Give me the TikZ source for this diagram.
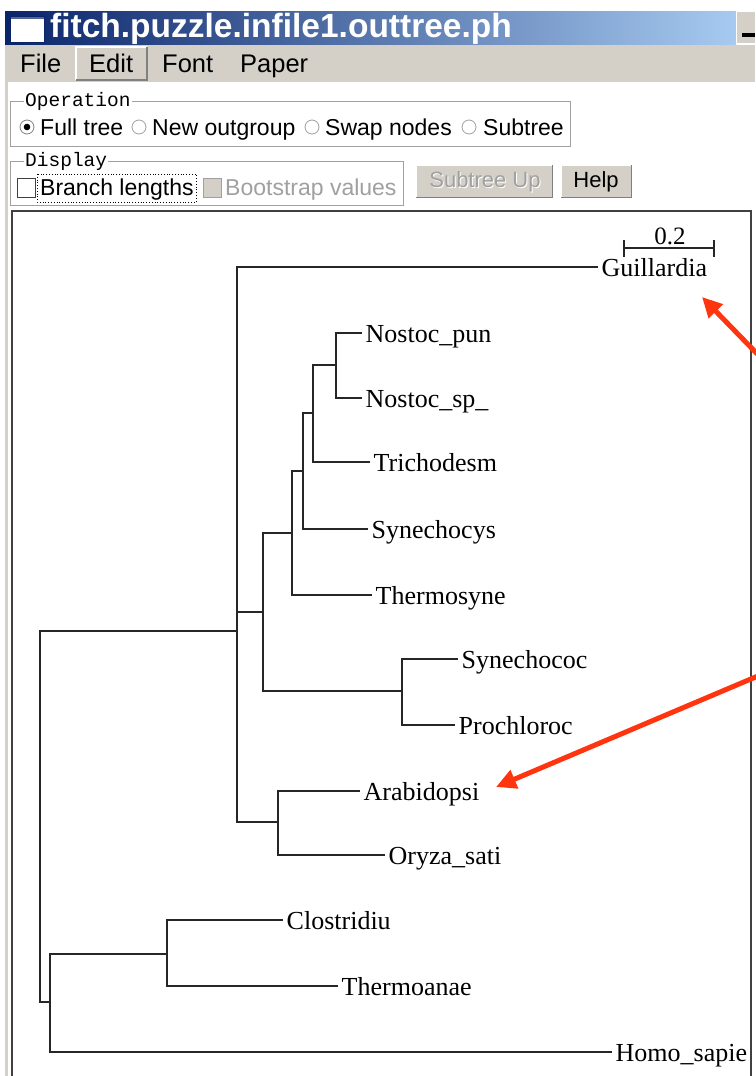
\documentclass[tikz,border=0pt]{standalone}
\usepackage{fontspec}
\setmainfont{Liberation Serif}
\setsansfont{Liberation Sans}
\setmonofont{Liberation Mono}
\usetikzlibrary{arrows.meta,calc}

\definecolor{winface}{HTML}{D4D0C8}
\definecolor{titledark}{HTML}{0A246A}
\definecolor{titlelight}{HTML}{A6CAF0}
\definecolor{shadowgray}{HTML}{808080}
\definecolor{etchgray}{HTML}{A0A0A0}
\definecolor{framedark}{HTML}{404040}
\definecolor{markred}{HTML}{FF3510}

\tikzset{
  menuitem/.style={font=\sffamily\fontsize{25.5}{28}\selectfont, anchor=base west, inner sep=0pt},
  guitext/.style={font=\sffamily\fontsize{23}{26}\selectfont, anchor=base west, inner sep=0pt},
  grouplabel/.style={font=\ttfamily\fontsize{19.5}{22}\selectfont, anchor=west, fill=white, inner xsep=1pt, inner ysep=0pt},
  btntext/.style={font=\sffamily\fontsize{22}{25}\selectfont, inner sep=0pt},
  leaf/.style={font=\rmfamily\fontsize{26}{30}\selectfont, anchor=base west, inner xsep=3.5pt, inner ysep=0pt, yshift=-9pt},
  branch/.style={draw=black!85, line width=1.2pt},
  pointer/.style={draw=markred, line width=5pt, -{Triangle[length=20pt,width=19pt]}},
  raised/.style={fill=winface},
}

\begin{document}
\begin{tikzpicture}[x=1pt,y=-1pt]
\useasboundingbox (0,0) rectangle (755,1076);
\fill[white] (0,0) rectangle (755,1076);

% window frame, title bar and menu bar
\fill[winface] (5,11) rectangle (8,1076);
\shade[left color=titledark, right color=titlelight] (5,11) rectangle (736,45);
\fill[white] (10,16) rectangle (44,42);
\fill[titledark!70!white] (10,16) rectangle (44,19);
\draw[titledark, line width=1pt] (10,16) rectangle (44,42);
\node[font=\sffamily\bfseries\fontsize{33.5}{36}\selectfont, text=white, anchor=base west, inner sep=0pt] (title) at (50,37) {fitch.puzzle.infile1.outtree.ph};
% minimize button
\fill[winface] (736,11) rectangle (755,43);
\draw[white, line width=1.5pt] (736.5,43) -- (736.5,11.5) -- (755,11.5);
\fill[black] (742,33) rectangle (755,37);

\fill[winface] (5,45) rectangle (755,82);
% raised Edit entry
\draw[white, line width=1.2pt] (76,80) -- (76,47) -- (147,47);
\draw[shadowgray, line width=1.2pt] (76,80) -- (147,80) -- (147,47);
\node[menuitem] (mFile) at (20,72) {File};
\node[menuitem] (mEdit) at (89,72) {Edit};
\node[menuitem] (mFont) at (162,72) {Font};
\node[menuitem] (mPaper) at (240,72) {Paper};

% Operation group
\draw[etchgray, line width=1pt] (10,101) rectangle (570,146);
\node[grouplabel] (gOper) at (24,101) {Operation};
\draw[shadowgray, fill=white, line width=0.8pt] (27,127) circle (7);
\fill[black] (27,127) circle (3.3);
\node[guitext] (rFull) at (40,135) {Full tree};
\draw[etchgray, fill=white, line width=0.8pt] (139,127) circle (7);
\node[guitext] (rOut) at (152,135) {New outgroup};
\draw[etchgray, fill=white, line width=0.8pt] (312,127) circle (7);
\node[guitext] (rSwap) at (325,135) {Swap nodes};
\draw[etchgray, fill=white, line width=0.8pt] (469,127) circle (7);
\node[guitext] (rSub) at (483,135) {Subtree};

% Display group
\draw[etchgray, line width=1pt] (10,161) rectangle (403,205);
\node[grouplabel] (gDisp) at (24,161) {Display};
\draw[framedark, fill=white, line width=1pt] (17,178) rectangle (35,197);
\draw[black, dotted, line width=0.8pt] (37,174) rectangle (196,202);
\node[guitext] (cBranch) at (40,195) {Branch lengths};
\draw[etchgray, fill=winface, line width=1pt] (203,178) rectangle (221,197);
\node[guitext, text=etchgray] (cBoot) at (225,195) {Bootstrap values};

% buttons
\fill[raised] (416,165) rectangle (553,198);
\draw[white, line width=1.5pt] (416.5,198) -- (416.5,165.5) -- (553,165.5);
\draw[shadowgray, line width=1.5pt] (416,197.5) -- (552.5,197.5) -- (552.5,165);
\node[btntext, text=white] at (486,183) {Subtree Up};
\node[btntext, text=etchgray] (bUp) at (485,182) {Subtree Up};
\fill[raised] (561,165) rectangle (632,198);
\draw[white, line width=1.5pt] (561.5,198) -- (561.5,165.5) -- (632,165.5);
\draw[shadowgray, line width=1.5pt] (561,197.5) -- (631.5,197.5) -- (631.5,165);
\node[btntext] (bHelp) at (596,182) {Help};

% tree canvas
\draw[framedark, line width=2pt] (12,1080) -- (12,211) -- (751,211) -- (751,1080);

% scale bar
\draw[branch] (624,240) -- (624,257);
\draw[branch] (714,240) -- (714,257);
\draw[branch] (624,248) -- (714,248);
\node[font=\rmfamily\fontsize{25}{28}\selectfont, inner sep=0pt] (scale) at (670,236) {0.2};

% internal nodes
\coordinate (nR) at (40,800);
\coordinate (nA) at (237,631);
\coordinate (nB) at (50,1002);
\coordinate (nC) at (263,612);
\coordinate (nD) at (278,822);
\coordinate (nE) at (292,533);
\coordinate (nF) at (402,691);
\coordinate (nG) at (303,471);
\coordinate (nH) at (313,413);
\coordinate (nI) at (336,365);
\coordinate (nJ) at (167,954);

% leaf tips
\coordinate (tGuil) at (598,267);
\coordinate (tNpun) at (362,333);
\coordinate (tNsp) at (362,398);
\coordinate (tTrich) at (370,462);
\coordinate (tSyncy) at (368,529);
\coordinate (tTsyn) at (372,595);
\coordinate (tSynco) at (458,659);
\coordinate (tProc) at (455,725);
\coordinate (tArab) at (360,791);
\coordinate (tOryz) at (385,855);
\coordinate (tClos) at (283,920);
\coordinate (tTana) at (338,986);
\coordinate (tHomo) at (612,1052);

% leaf labels
\node[leaf] (lGuil) at (tGuil) {Guillardia};
\node[leaf] (lNpun) at (tNpun) {Nostoc\_pun};
\node[leaf] (lNsp) at (tNsp) {Nostoc\_sp\_};
\node[leaf] (lTrich) at (tTrich) {Trichodesm};
\node[leaf] (lSyncy) at (tSyncy) {Synechocys};
\node[leaf] (lTsyn) at (tTsyn) {Thermosyne};
\node[leaf] (lSynco) at (tSynco) {Synechococ};
\node[leaf] (lProc) at (tProc) {Prochloroc};
\node[leaf] (lArab) at (tArab) {Arabidopsi};
\node[leaf] (lOryz) at (tOryz) {Oryza\_sati};
\node[leaf] (lClos) at (tClos) {Clostridiu};
\node[leaf] (lTana) at (tTana) {Thermoanae};
\node[leaf] (lHomo) at (tHomo) {Homo\_sapie};

% branches
\draw[branch] (nR) |- (nA);
\draw[branch] (nR) |- (nB);
\draw[branch] (nA) |- (tGuil);
\draw[branch] (nA) |- (nC);
\draw[branch] (nA) |- (nD);
\draw[branch] ($(nA)+(0.8,-193)$) -- ($(nA)+(0.8,-19)$);
\draw[branch] (nC) |- (nE);
\draw[branch] (nC) |- (nF);
\draw[branch] (nE) |- (nG);
\draw[branch] (nE) |- (tTsyn);
\draw[branch] (nG) |- (nH);
\draw[branch] (nG) |- (tSyncy);
\draw[branch] (nH) |- (nI);
\draw[branch] (nH) |- (tTrich);
\draw[branch] (nI) |- (tNpun);
\draw[branch] (nI) |- (tNsp);
\draw[branch] (nF) |- (tSynco);
\draw[branch] (nF) |- (tProc);
\draw[branch] (nD) |- (tArab);
\draw[branch] (nD) |- (tOryz);
\draw[branch] (nB) |- (nJ);
\draw[branch] (nB) |- (tHomo);
\draw[branch] (nJ) |- (tClos);
\draw[branch] (nJ) |- (tTana);

% red pointers
\coordinate (p1from) at (768,365);
\coordinate (p1to) at (702,297);
\coordinate (p2from) at (765,673);
\coordinate (p2to) at (496,787);
\draw[pointer] (p1from) -- (p1to);
\draw[pointer] (p2from) -- (p2to);
\end{tikzpicture}
\end{document}
